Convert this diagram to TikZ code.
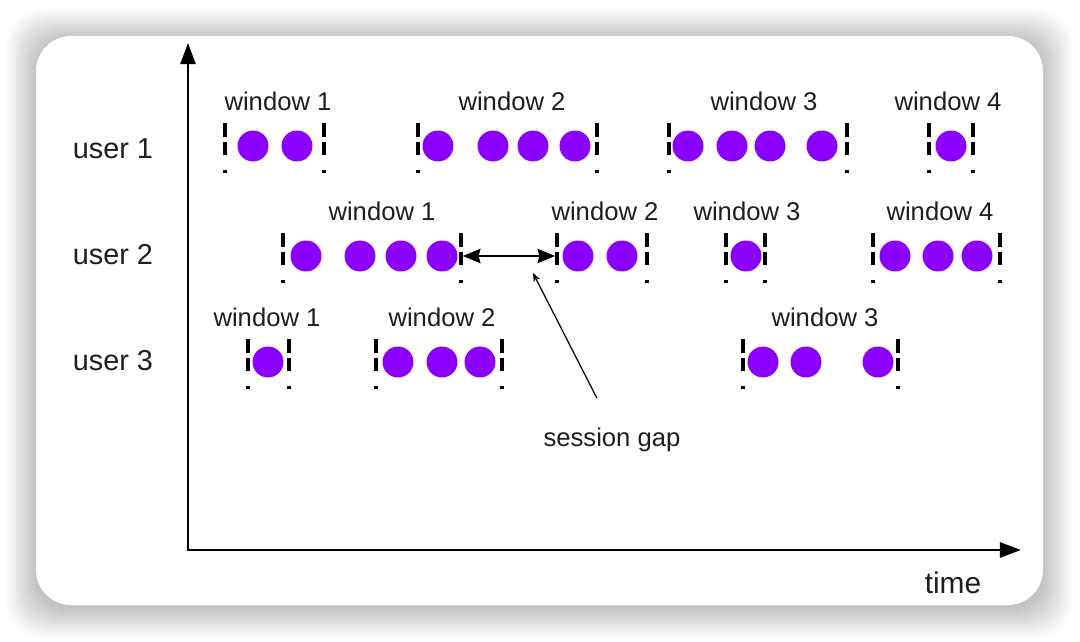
\documentclass[tikz,border=0pt]{standalone}
\usepackage{fontspec}
\setmainfont{Liberation Sans}
\usetikzlibrary{arrows.meta, positioning}
\definecolor{evpurple}{RGB}{140,0,255}
\definecolor{inkgray}{RGB}{30,30,30}
\tikzset{
    event/.style={circle, fill=evpurple, draw=none, minimum size=0.62cm, inner sep=0pt},
    bound/.style={line width=1.8pt, draw=black, dash pattern=on 7.9pt off 2.8pt on 7.4pt off 8.5pt on 1.7pt},
    winlabel/.style={inner sep=0pt, text=inkgray, font=\fontsize{14.6pt}{17pt}\selectfont},
    userlabel/.style={inner sep=0pt, text=inkgray, font=\fontsize{16.4pt}{19pt}\selectfont},
    axis/.style={line width=1.6pt, {Triangle[length=12pt, width=8.5pt]}-{Triangle[length=12pt, width=8.5pt]}},
    gaparrow/.style={line width=1.7pt, {Stealth[length=10pt, width=8pt, inset=1pt]}-{Stealth[length=10pt, width=8pt, inset=1pt]}},
    pointer/.style={line width=0.7pt, -{Stealth[length=5pt, width=4pt]}}
}
% one session window: name, row y, left x, right x, event xs, label x, text
\newcommand{\sesswin}[7]{%
    \coordinate (#1-l) at (#3,#2);
    \coordinate (#1-r) at (#4,#2);
    \draw[bound] (#3,#2-23) -- (#3,#2+27);
    \draw[bound] (#4,#2-23) -- (#4,#2+27);
    \foreach \d [count=\k] in {#5} \node[event] (#1-\k) at (\d,#2) {};
    \node[winlabel] (#1) at (#6,#2-45) {#7};
}

\begin{document}
\begin{tikzpicture}[x=0.02cm, y=-0.02cm]
    \useasboundingbox (0,0) rectangle (1080,642);
    % card with soft shadow
    \foreach \s in {1,...,30}
        \fill[black, opacity=0.006, rounded corners=0.7cm] (36-\s,36-\s+3) rectangle (1043+\s,605+\s+3);
    \fill[white, rounded corners=0.7cm] (36,36) rectangle (1043,605);

    % axes
    \coordinate (ytop) at (188,43);
    \coordinate (xend) at (1021,550);
    \draw[axis] (ytop) |- (xend);
    \node[userlabel, font=\fontsize{17pt}{20pt}\selectfont] (time) at (953,583) {time};

    \node[userlabel] (user1) at (113,149) {user 1};
    \node[userlabel] (user2) at (113,255) {user 2};
    \node[userlabel] (user3) at (113,361) {user 3};

    % user 1
    \sesswin{u1w1}{146}{225}{324}{253,297}{278}{window 1}
    \sesswin{u1w2}{146}{418}{597}{438,493,533,575}{512}{window 2}
    \sesswin{u1w3}{146}{669}{847}{688,732,770,822}{764}{window 3}
    \sesswin{u1w4}{146}{929}{973}{951}{948}{window 4}
    % user 2
    \sesswin{u2w1}{256}{283}{461}{306,360,401,442}{382}{window 1}
    \sesswin{u2w2}{256}{557}{647}{578,622}{605}{window 2}
    \sesswin{u2w3}{256}{726}{765}{746}{747}{window 3}
    \sesswin{u2w4}{256}{873}{1000}{895,938,977}{940}{window 4}
    % user 3
    \sesswin{u3w1}{362}{248}{289}{268}{267}{window 1}
    \sesswin{u3w2}{362}{376}{502}{398,442,480}{442}{window 2}
    \sesswin{u3w3}{362}{743}{898}{763,806,878}{825}{window 3}

    % session gap
    \draw[gaparrow, shorten <=1pt, shorten >=1pt] (u2w1-r) -- (u2w2-l);
    \node[winlabel] (gap) at (612,440) {session gap};
    \coordinate (gaptip) at (533,273);
    \draw[pointer, shorten <=19pt] (gap.north) -- (gaptip);
\end{tikzpicture}
\end{document}
